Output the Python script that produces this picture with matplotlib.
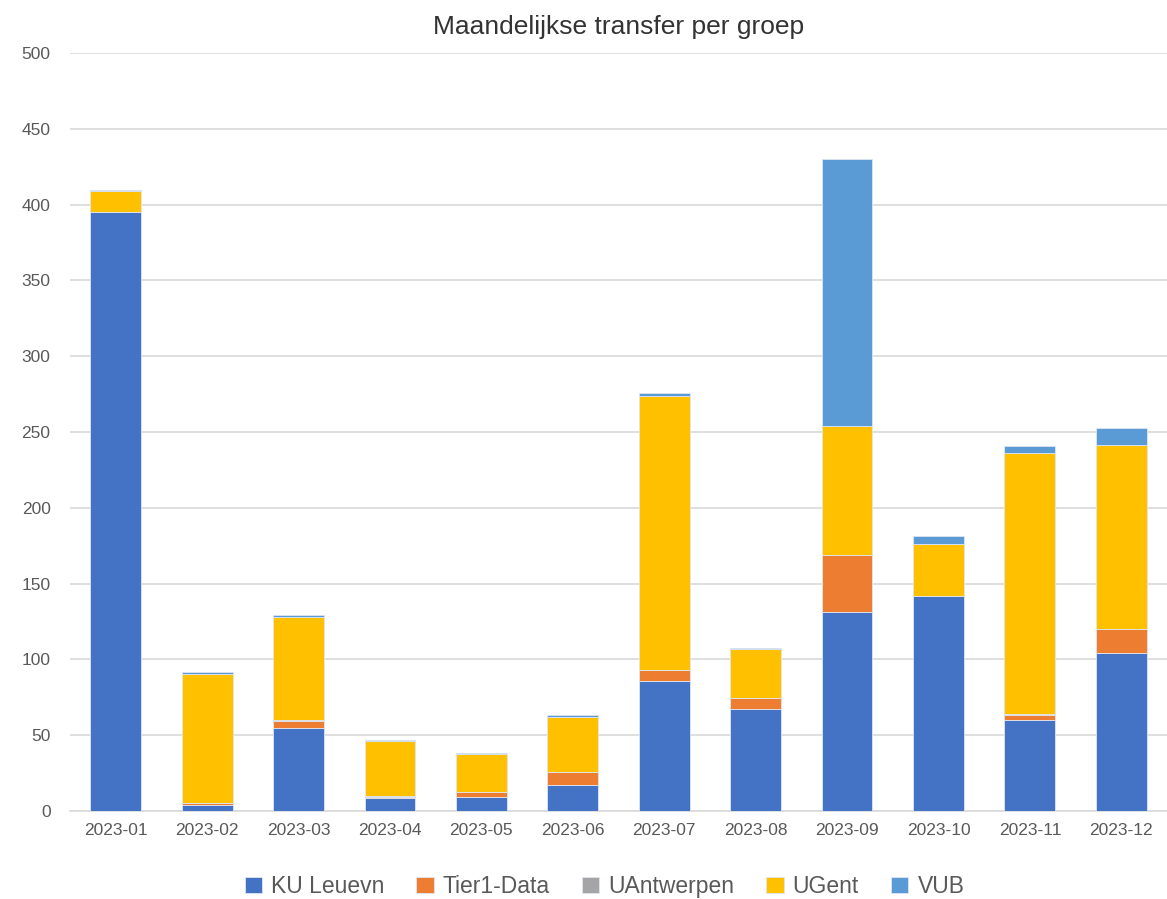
import numpy as np
import matplotlib

matplotlib.use("Agg")
import matplotlib.pyplot as plt

months = ["2023-01", "2023-02", "2023-03", "2023-04", "2023-05", "2023-06",
          "2023-07", "2023-08", "2023-09", "2023-10", "2023-11", "2023-12"]
groups = ["KU Leuevn", "Tier1-Data", "UAntwerpen", "UGent", "VUB"]

ku_leuven = [395, 4, 55, 8.5, 9.2, 17.3, 86, 67, 131, 141.7, 60.3, 104]
tier1_data = [0, 1.2, 4.0, 0.6, 3.3, 8.2, 7, 7.5, 38, 0, 3.0, 16]
uantwerpen = [0, 0.3, 1.0, 0.6, 0, 0, 0, 0, 0, 0, 0.4, 0]
ugent = [14, 84.5, 68, 36.5, 25.3, 36.3, 181, 32.3, 85, 34.3, 172.3, 121.7]
vub = [0.5, 1.5, 1.0, 0.8, 0.5, 1.3, 1.5, 0.7, 176, 5.4, 4.9, 11.2]

colors = ["#4472C4", "#ED7D31", "#A5A5A5", "#FFC000", "#5B9BD5"]
text_color = "#595959"

plt.rcParams["font.family"] = ["Liberation Sans", "DejaVu Sans"]

fig = plt.figure(figsize=(11.67, 8.99), dpi=100)
ax = fig.add_axes([0.06, 0.098, 0.94, 0.843])

x = np.arange(len(months))
bottom = np.zeros(len(months))
for name, vals, col in zip(groups, [ku_leuven, tier1_data, uantwerpen, ugent, vub], colors):
    vals = np.array(vals, dtype=float)
    ax.bar(x, vals, width=0.556, bottom=bottom, color=col, label=name,
           edgecolor="#dfe6f2", linewidth=0.6, zorder=3)
    bottom += vals

ax.set_xlim(-0.5, len(months) - 0.5)
ax.set_ylim(0, 500)
ax.set_yticks(np.arange(0, 501, 50))
ax.set_xticks(x)
ax.set_xticklabels(months)
ax.tick_params(axis="both", length=0, colors=text_color, labelsize=12.5)
ax.tick_params(axis="y", pad=14)
ax.tick_params(axis="x", pad=9)
ax.grid(axis="y", color="#D9D9D9", linewidth=1.2, zorder=0)
for side in ["top", "right", "left"]:
    ax.spines[side].set_visible(False)
ax.spines["bottom"].set_color("#D9D9D9")
ax.spines["bottom"].set_linewidth(1.2)

ax.set_title("Maandelijkse transfer per groep", fontsize=19, color="#333333", pad=14)

handles, labels = ax.get_legend_handles_labels()
fig.legend(handles, labels, loc="center", bbox_to_anchor=(0.518, 0.014),
           ncol=5, frameon=False, fontsize=16.5, labelcolor=text_color,
           handlelength=0.75, handleheight=0.75, handletextpad=0.4, columnspacing=1.4)

fig.savefig("out.png", dpi=100)
